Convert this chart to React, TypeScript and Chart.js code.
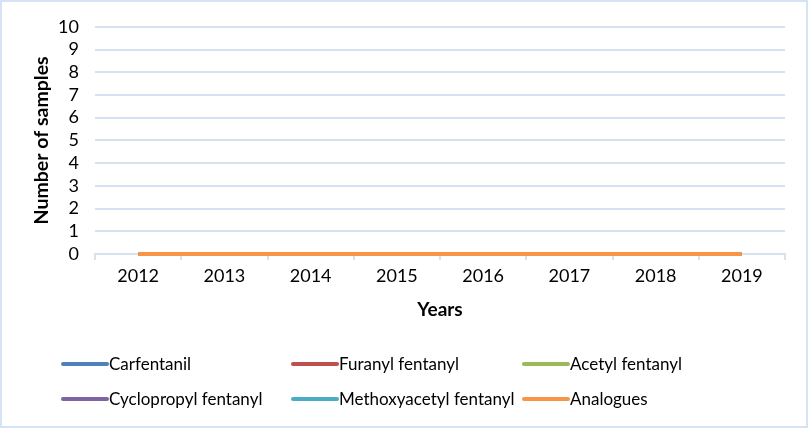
import React, { useEffect, useRef } from "react";
import { Chart, registerables } from "chart.js";

Chart.register(...registerables);

const years = ["2012", "2013", "2014", "2015", "2016", "2017", "2018", "2019"];
const seriesNames = [
  "Carfentanil",
  "Furanyl fentanyl",
  "Acetyl fentanyl",
  "Cyclopropyl fentanyl",
  "Methoxyacetyl fentanyl",
  "Analogues",
];
const carfentanil = [0, 0, 0, 0, 0, 0, 0, 0];
const furanylFentanyl = [0, 0, 0, 0, 0, 0, 0, 0];
const acetylFentanyl = [0, 0, 0, 0, 0, 0, 0, 0];
const cyclopropylFentanyl = [0, 0, 0, 0, 0, 0, 0, 0];
const methoxyacetylFentanyl = [0, 0, 0, 0, 0, 0, 0, 0];
const analogues = [0, 0, 0, 0, 0, 0, 0, 0];
const seriesValues = [
  carfentanil,
  furanylFentanyl,
  acetylFentanyl,
  cyclopropylFentanyl,
  methoxyacetylFentanyl,
  analogues,
];
const seriesColors = ["#4F81BD", "#C0504D", "#9BBB59", "#8064A2", "#4BACC6", "#F79646"];
const yMin = 0;
const yMax = 10;
const yStep = 1;

const FONT = "Lato, 'Open Sans', sans-serif";
const GRID = "#D6E1F1";

const legendPlugin = {
  id: "customLegend",
  afterDraw(chart: any) {
    const ctx = chart.ctx;
    const cols = [63, 293, 524];
    const rows = [364, 399];
    ctx.save();
    chart.data.datasets.forEach((ds: any, i: number) => {
      const x = cols[i % 3];
      const y = rows[Math.floor(i / 3)];
      ctx.strokeStyle = ds.borderColor;
      ctx.lineWidth = 4;
      ctx.lineCap = "round";
      ctx.beginPath();
      ctx.moveTo(x, y);
      ctx.lineTo(x + 44, y);
      ctx.stroke();
      ctx.fillStyle = "#000";
      ctx.font = `17px ${FONT}`;
      ctx.textBaseline = "middle";
      ctx.textAlign = "left";
      ctx.fillText(ds.label, x + 46, y + 1);
    });
    ctx.restore();
  },
};

const borderPlugin = {
  id: "frame",
  beforeDraw(chart: any) {
    const ctx = chart.ctx;
    ctx.save();
    ctx.fillStyle = "#fff";
    ctx.fillRect(0, 0, chart.width, chart.height);
    ctx.strokeStyle = "#D6E3F5";
    ctx.lineWidth = 2;
    ctx.strokeRect(1, 1, chart.width - 2, chart.height - 2);
    ctx.restore();
  },
};

export default function App() {
  const ref = useRef<HTMLCanvasElement | null>(null);
  useEffect(() => {
    document.body.style.margin = "0";
    if (!ref.current) return;
    const chart = new Chart(ref.current, {
      type: "line",
      data: {
        labels: years,
        datasets: seriesNames.map((name, i) => ({
          label: name,
          data: seriesValues[i],
          borderColor: seriesColors[i],
          backgroundColor: seriesColors[i],
          borderWidth: 4,
          pointRadius: 0,
          fill: false,
          tension: 0,
          borderCapStyle: "butt",
          clip: 10,
          order: seriesNames.length - 1 - i,
        })),
      },
      options: {
        responsive: false,
        animation: false,
        events: [],
        layout: { padding: { top: 23, right: 23, left: 0, bottom: 104 } },
        plugins: {
          legend: { display: false },
          tooltip: { enabled: false },
        },
        scales: {
          x: {
            offset: true,
            grid: {
              offset: true,
              drawOnChartArea: false,
              drawTicks: true,
              tickLength: 6,
              color: GRID,
              lineWidth: 2,
            },
            border: { display: true, color: GRID, width: 2 },
            ticks: {
              color: "#000",
              font: { family: FONT, size: 18 },
              padding: 5,
              maxRotation: 0,
              autoSkip: false,
            },
            title: {
              display: true,
              text: "Years",
              color: "#000",
              font: { family: FONT, size: 19, weight: "bold" },
              padding: { top: 0, bottom: 3 },
            },
            afterFit(scale: any) {
              scale.height = 70;
            },
          },
          y: {
            min: yMin,
            max: yMax,
            grid: { drawTicks: false, color: GRID, lineWidth: 2 },
            border: { display: false },
            ticks: {
              stepSize: yStep,
              autoSkip: false,
              color: "#000",
              font: { family: FONT, size: 18 },
              padding: 16,
            },
            title: {
              display: true,
              text: "Number of samples",
              color: "#000",
              font: { family: FONT, size: 19.5, weight: "bold" },
              padding: { top: 30, bottom: 0 },
            },
            afterFit(scale: any) {
              scale.width = 95;
            },
          },
        },
      },
      plugins: [borderPlugin, legendPlugin],
    } as any);
    return () => chart.destroy();
  }, []);
  return (
    <div style={{ width: 808, height: 428 }}>
      <canvas ref={ref} width={808} height={428} style={{ display: "block" }} />
    </div>
  );
}
